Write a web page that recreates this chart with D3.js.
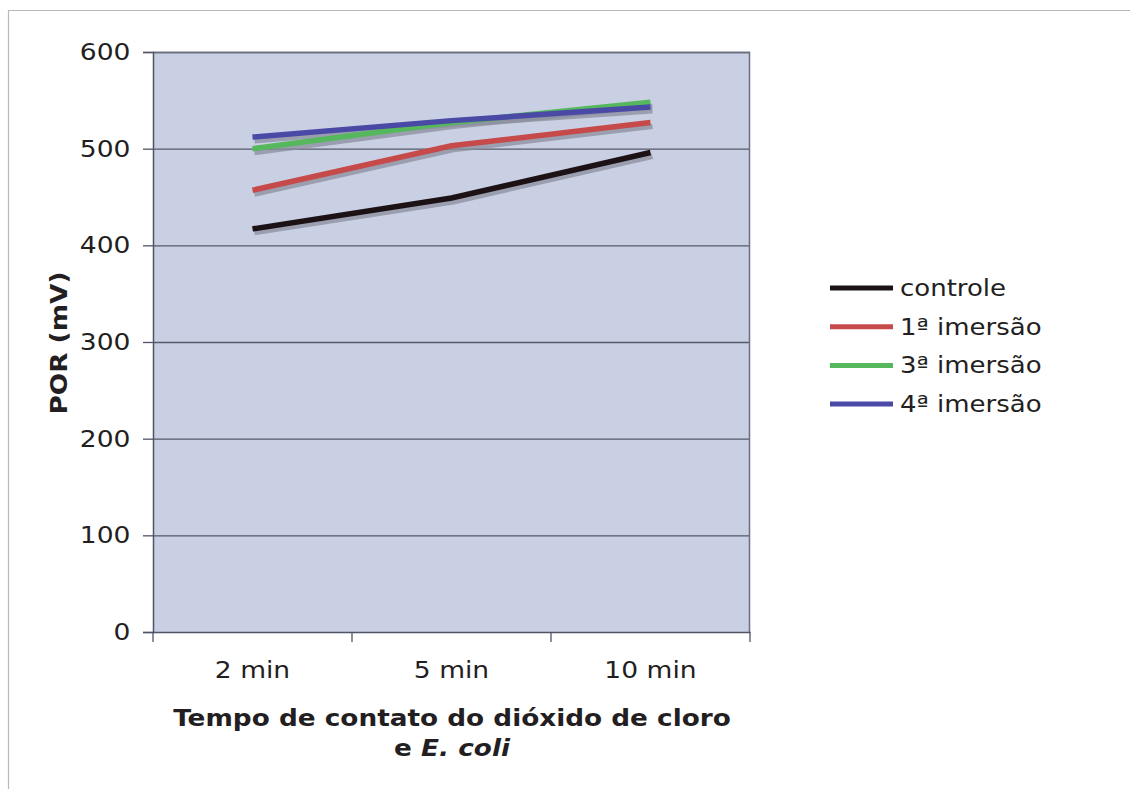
<!DOCTYPE html>
<html>
<head>
<meta charset="utf-8">
<script src="https://cdn.jsdelivr.net/npm/d3@7"></script>
<style>
  html, body { margin: 0; padding: 0; background: #fff; }
  svg { display: block; font-family: "DejaVu Sans", Verdana, sans-serif; }
</style>
</head>
<body>
<svg id="chart" width="1130" height="789"></svg>
<script>
// Contact time categories and redox potential (mV) per immersion series
const categories = ["2 min", "5 min", "10 min"];
const seriesNames = ["controle", "1ª imersão", "3ª imersão", "4ª imersão"];
const controle = [417, 449, 496];
const imersao1 = [457, 503, 527];
const imersao3 = [500, 527, 548];
const imersao4 = [512, 529, 543];
const seriesColors = ["#1c1216", "#c64a4a", "#55b85c", "#4a4aa6"];
const yTicks = [0, 100, 200, 300, 400, 500, 600];

const seriesValues = [controle, imersao1, imersao3, imersao4];

// text is drawn slightly wide, like Verdana
const WIDE = 1.13;
const textColor = "#231e21";

const svg = d3.select("#chart");
const plot = { left: 153, right: 750, top: 52, bottom: 632 };

// outer frame
svg.append("path")
  .attr("d", "M8.5,1130 V10.5 H1130")
  .attr("fill", "none").attr("stroke", "#b8b8b8").attr("stroke-width", 1.2);

const x = d3.scaleBand().domain(categories).range([plot.left, plot.right]);
const y = d3.scaleLinear().domain([0, 600]).range([plot.bottom, plot.top]);

// plot background
svg.append("rect")
  .attr("x", plot.left).attr("y", plot.top)
  .attr("width", plot.right - plot.left).attr("height", plot.bottom - plot.top)
  .attr("fill", "#cad0e4");

// horizontal gridlines
svg.append("g").selectAll("line").data(yTicks.filter(d => d > 0)).join("line")
  .attr("x1", plot.left).attr("x2", plot.right)
  .attr("y1", d => y(d) + 0.5).attr("y2", d => y(d) + 0.5)
  .attr("stroke", "#555a68").attr("stroke-width", 1.3);

// plot border (right + top)
svg.append("path")
  .attr("d", `M${plot.left},${plot.top + 0.5} H${plot.right - 0.5} V${plot.bottom}`)
  .attr("fill", "none").attr("stroke", "#6a6e80").attr("stroke-width", 1.5);

// y axis
const yAxis = svg.append("g")
  .attr("transform", `translate(${plot.left},0)`)
  .call(d3.axisLeft(y).tickValues(yTicks).tickSize(10).tickPadding(10));
yAxis.select(".domain").attr("stroke", "#505466").attr("stroke-width", 1.5);
yAxis.selectAll(".tick line").attr("stroke", "#505466").attr("stroke-width", 1.3);
yAxis.selectAll(".tick text")
  .attr("font-size", 23.5).attr("fill", textColor)
  .attr("font-family", "DejaVu Sans, Verdana, sans-serif")
  .attr("transform", `scale(${WIDE},1)`);

// x axis with ticks at category boundaries
const xAxis = svg.append("g")
  .attr("transform", `translate(0,${plot.bottom})`)
  .call(d3.axisBottom(x).tickSize(0).tickPadding(29));
xAxis.select(".domain").attr("stroke", "#505466").attr("stroke-width", 1.5);
xAxis.selectAll(".tick text")
  .attr("font-size", 23.5).attr("fill", textColor)
  .attr("font-family", "DejaVu Sans, Verdana, sans-serif")
  .attr("transform", `scale(${WIDE},1)`);
const bounds = categories.map(c => x(c)).concat([x(categories[categories.length - 1]) + x.bandwidth()]);
xAxis.selectAll(".bound").data(bounds).join("line")
  .attr("class", "bound")
  .attr("x1", d => d).attr("x2", d => d)
  .attr("y1", 0).attr("y2", 10)
  .attr("stroke", "#505466").attr("stroke-width", 1.3);

// series lines, each with a soft drop shadow
const line = d3.line()
  .x((d, i) => x(categories[i]) + x.bandwidth() / 2)
  .y(d => y(d));

const shadows = svg.append("g");
const lines = svg.append("g");
seriesValues.forEach((vals) => {
  shadows.append("path")
    .attr("d", line(vals))
    .attr("transform", "translate(2,4)")
    .attr("fill", "none").attr("stroke", "#8a8e9c").attr("stroke-opacity", 0.75)
    .attr("stroke-width", 5);
});
seriesValues.forEach((vals, i) => {
  lines.append("path")
    .attr("d", line(vals))
    .attr("fill", "none").attr("stroke", seriesColors[i])
    .attr("stroke-width", 5.5);
});

// legend
const legend = svg.append("g");
seriesNames.forEach((name, i) => {
  const ly = 288 + i * 38.7;
  legend.append("line")
    .attr("x1", 830).attr("x2", 893).attr("y1", ly).attr("y2", ly)
    .attr("stroke", seriesColors[i]).attr("stroke-width", 5);
  legend.append("text")
    .attr("transform", `translate(900,${ly + 8}) scale(${WIDE},1)`)
    .attr("font-size", 23).attr("fill", textColor)
    .text(name);
});

// axis titles
svg.append("text")
  .attr("transform", `translate(67,${(plot.top + plot.bottom) / 2 + 1}) rotate(-90) scale(1.17,1)`)
  .attr("text-anchor", "middle")
  .attr("font-size", 22.5).attr("font-weight", "bold").attr("fill", textColor)
  .text("POR (mV)");

const xTitle = svg.append("text")
  .attr("transform", `translate(452,0) scale(1.17,1)`)
  .attr("text-anchor", "middle")
  .attr("font-size", 22.5).attr("font-weight", "bold").attr("fill", textColor);
xTitle.append("tspan").attr("x", 0).attr("y", 726).text("Tempo de contato do dióxido de cloro");
const l2 = xTitle.append("tspan").attr("x", 0).attr("y", 756);
l2.text("e ");
l2.append("tspan").attr("font-style", "italic").text("E. coli");
</script>
</body>
</html>
